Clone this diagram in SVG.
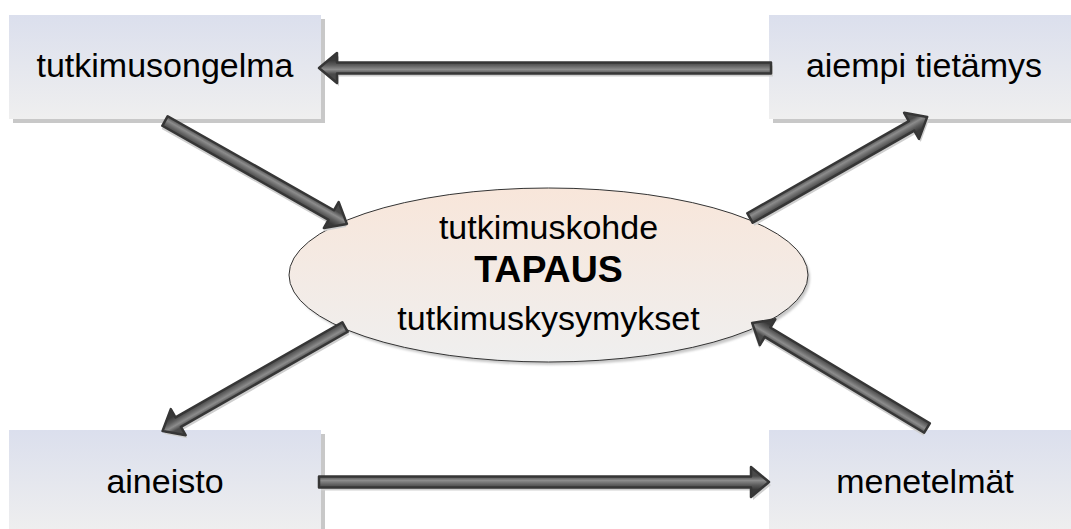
<svg xmlns="http://www.w3.org/2000/svg" width="1071" height="529" viewBox="0 0 1071 529">
<style>
.lbl{font-family:"Liberation Sans",Arial,sans-serif;font-size:34px;fill:#000;text-anchor:middle}
.big{font-family:"Liberation Sans",Arial,sans-serif;font-size:37.5px;font-weight:bold;fill:#000;text-anchor:middle}
.box{fill:url(#boxg)}
.bshadow{fill:#c8c8c8}
.arr{fill:url(#arrg);stroke:#363636;stroke-width:2.5;stroke-linejoin:round}
.ashadow{fill:#cfcfcf}
</style>
<defs>
<linearGradient id="boxg" x1="0" y1="0" x2="0" y2="1">
<stop offset="0" stop-color="#dbdfed"/>
<stop offset="1" stop-color="#efefef"/>
</linearGradient>
<linearGradient id="ellg" x1="0" y1="0" x2="0" y2="1">
<stop offset="0" stop-color="#f8e6da"/>
<stop offset="1" stop-color="#efefef"/>
</linearGradient>
<linearGradient id="arrg" x1="0" y1="0" x2="0" y2="1">
<stop offset="0.3" stop-color="#4a4a4a"/>
<stop offset="0.45" stop-color="#8c8c8c"/>
<stop offset="0.6" stop-color="#5c5c5c"/>
<stop offset="0.75" stop-color="#3a3a3a"/>
</linearGradient>
<filter id="blur" x="-10%" y="-10%" width="120%" height="120%"><feGaussianBlur stdDeviation="1"/></filter>
</defs>

<g id="node-tutkimusongelma">
<rect class="bshadow" x="13" y="19" width="312" height="104"/>
<rect class="box" x="9" y="15" width="312" height="104"/>
<text class="lbl" x="165" y="77">tutkimusongelma</text>
</g>
<g id="node-aiempi">
<rect class="bshadow" x="773" y="19" width="312" height="104"/>
<rect class="box" x="769" y="15" width="312" height="104"/>
<text class="lbl" x="924" y="77">aiempi tietämys</text>
</g>
<g id="node-aineisto">
<rect class="bshadow" x="13" y="434" width="312" height="104"/>
<rect class="box" x="9" y="430" width="312" height="104"/>
<text class="lbl" x="165" y="493">aineisto</text>
</g>
<g id="node-menetelmat">
<rect class="bshadow" x="773" y="434" width="312" height="104"/>
<rect class="box" x="769" y="430" width="312" height="104"/>
<text class="lbl" x="925" y="493">menetelmät</text>
</g>
<g id="node-tapaus">
<ellipse cx="551" cy="278" rx="259" ry="87" fill="#c8c8c8" filter="url(#blur)"/>
<ellipse cx="548.5" cy="275" rx="259.5" ry="87" fill="url(#ellg)" stroke="#333" stroke-width="1"/>
<text class="lbl" x="548.5" y="239">tutkimuskohde</text>
<text class="big" x="548.5" y="282">TAPAUS</text>
<text class="lbl" x="548.5" y="330">tutkimuskysymykset</text>
</g>

<g id="connectors">
<g transform="translate(771,68) rotate(180)">
<path class="ashadow" transform="translate(-2,-3)" d="M0,-5.5 L434,-5.5 L434,-15 L452,0 L434,15 L434,5.5 L0,5.5 Z"/>
<path class="arr" d="M0,-5.5 L434,-5.5 L434,-15 L452,0 L434,15 L434,5.5 L0,5.5 Z"/>
</g>
<g transform="translate(319,482)">
<path class="ashadow" transform="translate(2,3)" d="M0,-5.5 L432,-5.5 L432,-15 L450,0 L432,15 L432,5.5 L0,5.5 Z"/>
<path class="arr" d="M0,-5.5 L432,-5.5 L432,-15 L450,0 L432,15 L432,5.5 L0,5.5 Z"/>
</g>
<g transform="translate(165,121) rotate(29.5)">
<path class="ashadow" transform="translate(1,3)" d="M0,-5.5 L191,-5.5 L191,-15 L209,0 L191,15 L191,5.5 L0,5.5 Z"/>
<path class="arr" d="M0,-5.5 L191,-5.5 L191,-15 L209,0 L191,15 L191,5.5 L0,5.5 Z"/>
</g>
<g transform="translate(750,218) rotate(-29.7)">
<path class="ashadow" transform="translate(0,3.5)" d="M0,-5.5 L186,-5.5 L186,-15 L204,0 L186,15 L186,5.5 L0,5.5 Z"/>
<path class="arr" d="M0,-5.5 L186,-5.5 L186,-15 L204,0 L186,15 L186,5.5 L0,5.5 Z"/>
</g>
<g transform="translate(345,327) rotate(150.3)">
<path class="ashadow" transform="translate(0,-3.5)" d="M0,-5.5 L192,-5.5 L192,-15 L210,0 L192,15 L192,5.5 L0,5.5 Z"/>
<path class="arr" d="M0,-5.5 L192,-5.5 L192,-15 L210,0 L192,15 L192,5.5 L0,5.5 Z"/>
</g>
<g transform="translate(927,428) rotate(211)">
<path class="ashadow" transform="translate(-1,-3)" d="M0,-5.5 L186,-5.5 L186,-15 L204,0 L186,15 L186,5.5 L0,5.5 Z"/>
<path class="arr" d="M0,-5.5 L186,-5.5 L186,-15 L204,0 L186,15 L186,5.5 L0,5.5 Z"/>
</g>
</g>
</svg>
